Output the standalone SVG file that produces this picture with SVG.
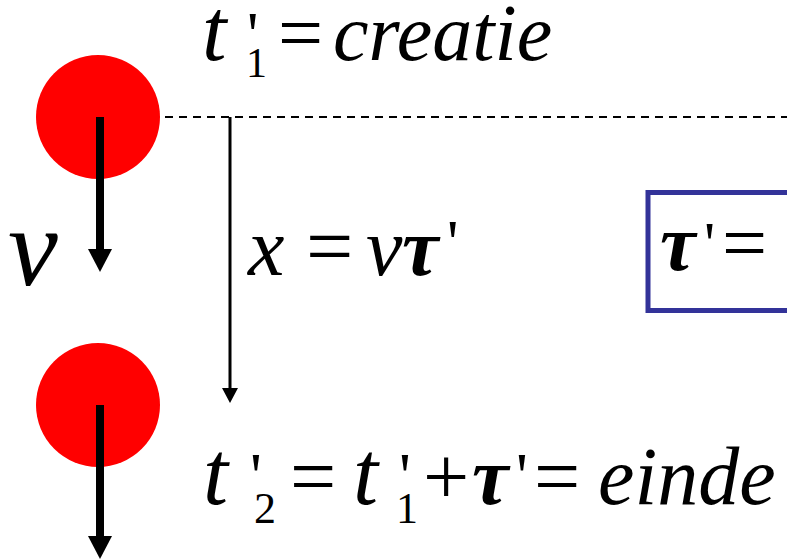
<svg xmlns="http://www.w3.org/2000/svg" width="787" height="559" viewBox="0 0 787 559">
<style>
text{font-family:"Liberation Serif","Times New Roman","DejaVu Serif",serif;fill:#000}
.i{font-style:italic}
.u{font-style:normal}
.b{font-weight:bold}
.ball{fill:#ff0000}
.thick{stroke:#000;stroke-width:8;fill:none}
.thin{stroke:#000;stroke-width:3;fill:none}
.dash{stroke:#000;stroke-width:2;stroke-dasharray:8 6;fill:none}
.box{stroke:#333399;stroke-width:5;fill:none}
</style>
<defs>
<marker id="headBig" markerUnits="userSpaceOnUse" viewBox="0 0 23 24" markerWidth="23" markerHeight="24" refX="0" refY="12" orient="auto">
<path d="M0,0 L23,12 L0,24 Z" fill="#000"/>
</marker>
<marker id="headSmall" markerUnits="userSpaceOnUse" viewBox="0 0 15 16" markerWidth="15" markerHeight="16" refX="0" refY="8" orient="auto">
<path d="M0,0 L15,8 L0,16 Z" fill="#000"/>
</marker>
</defs>
<rect width="787" height="559" fill="#fff"/>
<g id="ball1"><circle class="ball" cx="98" cy="117" r="62"/></g>
<g id="ball2"><circle class="ball" cx="98" cy="405" r="62"/></g>
<g id="connectors">
<line class="dash" x1="165" y1="117" x2="787" y2="117"/>
<line class="thick" x1="100" y1="117" x2="100" y2="249" marker-end="url(#headBig)"/>
<line class="thick" x1="100" y1="405" x2="100" y2="536" marker-end="url(#headBig)"/>
<line class="thin" x1="230" y1="117" x2="230" y2="388" marker-end="url(#headSmall)"/>
</g>
<g id="box"><rect class="box" x="648" y="192.5" width="200" height="118"/>
<text font-size="80"><tspan class="i b" x="660" y="270">τ</tspan><tspan class="u" x="704" y="264" font-size="62">'</tspan><tspan class="u" x="722" y="270">=</tspan></text>
</g>
<g id="label-v"><text class="i" x="8" y="285" font-size="112">v</text></g>
<g id="label-t1">
<text font-size="80"><tspan class="i" x="202" y="60" font-size="88">t</tspan><tspan class="u" x="247" y="56" font-size="64">'</tspan><tspan class="u" x="246" y="77" font-size="42">1</tspan><tspan class="u" x="278" y="60">=</tspan><tspan class="i" x="333" y="60">creatie</tspan></text>
</g>
<g id="label-x">
<text font-size="82"><tspan class="i" x="248" y="275">x</tspan><tspan class="u" x="306" y="275" font-size="84">=</tspan><tspan class="i" x="366" y="275">v</tspan><tspan class="i b" x="402" y="275">τ</tspan><tspan class="u" x="447" y="264" font-size="64">'</tspan></text>
</g>
<g id="label-t2">
<text font-size="82"><tspan class="i" x="203" y="504" font-size="90">t</tspan><tspan class="u" x="250" y="498" font-size="66">'</tspan><tspan class="u" x="254" y="523" font-size="44">2</tspan><tspan class="u" x="290" y="504">=</tspan><tspan class="i" x="353" y="504" font-size="90">t</tspan><tspan class="u" x="399" y="498" font-size="66">'</tspan><tspan class="u" x="396" y="523" font-size="44">1</tspan><tspan class="u" x="423" y="504">+</tspan><tspan class="i b" x="472" y="504">τ</tspan><tspan class="u" x="516" y="498" font-size="66">'</tspan><tspan class="u" x="534" y="504">=</tspan><tspan class="i" x="598" y="504">einde</tspan></text>
</g>
</svg>
